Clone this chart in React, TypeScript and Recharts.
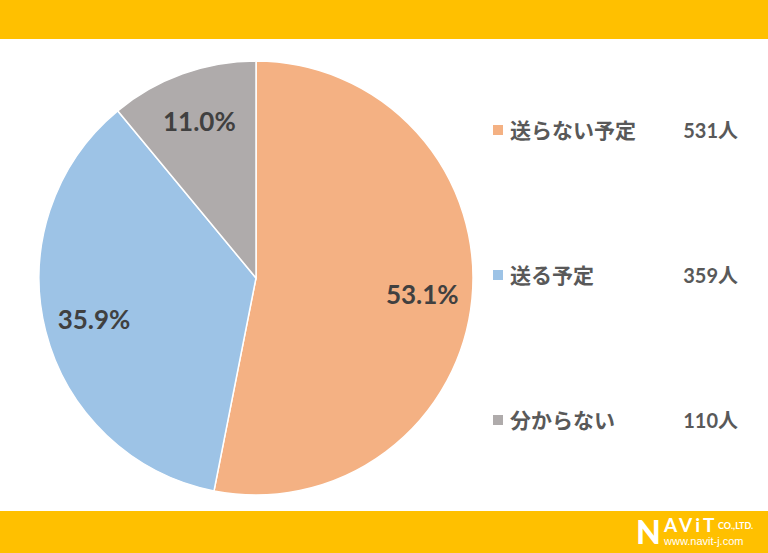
import { PieChart, Pie, Cell } from 'recharts';

const categories = ['送らない予定', '送る予定', '分からない'];
const counts = [531, 359, 110];
const percentLabels = ['53.1%', '35.9%', '11.0%'];
const COLORS = ['#F4B183', '#9DC3E6', '#AFABAB'];

const data = categories.map((name, i) => ({ name, value: counts[i] }));

const RADIAN = Math.PI / 180;

const renderLabel = (props: any) => {
  const { cx, cy, midAngle, outerRadius, index } = props;
  const r = outerRadius * 0.77;
  const x = cx + r * Math.cos(-midAngle * RADIAN);
  const y = cy + r * Math.sin(-midAngle * RADIAN);
  return (
    <text
      x={x}
      y={y}
      fill="#404040"
      textAnchor="middle"
      dominantBaseline="central"
      style={{ fontFamily: 'Lato, "Noto Sans", sans-serif', fontWeight: 700, fontSize: 26 }}
    >
      {percentLabels[index]}
    </text>
  );
};

const App = () => {
  return (
    <div
      style={{
        position: 'fixed',
        left: 0,
        top: 0,
        width: 768,
        height: 553,
        background: '#ffffff',
        overflow: 'hidden',
        fontFamily: '"Noto Sans CJK JP", sans-serif',
      }}
    >
      {/* top band */}
      <div style={{ position: 'absolute', left: 0, top: 0, width: 768, height: 39, background: '#FFC000' }} />
      {/* bottom band */}
      <div style={{ position: 'absolute', left: 0, top: 511, width: 768, height: 42, background: '#FFC000' }}>
        <div style={{ position: 'absolute', left: 636, top: 5, color: '#fff', fontFamily: 'Lato, sans-serif', fontWeight: 900, fontSize: 32, lineHeight: '32px' }}>
          N
        </div>
        <div style={{ position: 'absolute', left: 664, top: 4, color: '#fff', fontFamily: 'Lato, sans-serif', fontWeight: 700, fontSize: 19, lineHeight: '20px', letterSpacing: 3 }}>
          AViT
        </div>
        <div style={{ position: 'absolute', left: 718, top: 10, color: '#fff', fontFamily: 'Lato, sans-serif', fontWeight: 700, fontSize: 9, lineHeight: '10px' }}>
          CO.,LTD.
        </div>
        <div style={{ position: 'absolute', left: 664, top: 24, color: '#fff', fontFamily: '"Liberation Sans", sans-serif', fontSize: 11, lineHeight: '12px' }}>
          www.navit-j.com
        </div>
      </div>

      <div style={{ position: 'absolute', left: 0, top: 39 }}>
        <PieChart width={512} height={472}>
          <Pie
            data={data}
            dataKey="value"
            cx={251}
            cy={234}
            outerRadius={217}
            startAngle={90}
            endAngle={-270}
            stroke="#ffffff"
            strokeWidth={1.5}
            labelLine={false}
            label={renderLabel}
            isAnimationActive={false}
          >
            {data.map((entry, index) => (
              <Cell key={`cell-${index}`} fill={COLORS[index]} />
            ))}
          </Pie>
        </PieChart>
      </div>

      {/* legend */}
      {categories.map((name, i) => (
        <div key={name} style={{ position: 'absolute', left: 493, top: 116 + i * 145, width: 250, height: 30 }}>
          <div style={{ position: 'absolute', left: 0, top: 9, width: 10, height: 10, background: COLORS[i] }} />
          <div style={{ position: 'absolute', left: 17, top: -1, fontSize: 21, lineHeight: '28px', fontWeight: 700, color: '#595959', whiteSpace: 'nowrap' }}>
            {name}
          </div>
          <div style={{ position: 'absolute', right: 5, top: 0, fontSize: 20, lineHeight: '28px', fontWeight: 700, color: '#595959', whiteSpace: 'nowrap' }}>
            <span style={{ fontFamily: 'Lato, sans-serif' }}>{counts[i]}</span>人
          </div>
        </div>
      ))}
    </div>
  );
};

export default App;
